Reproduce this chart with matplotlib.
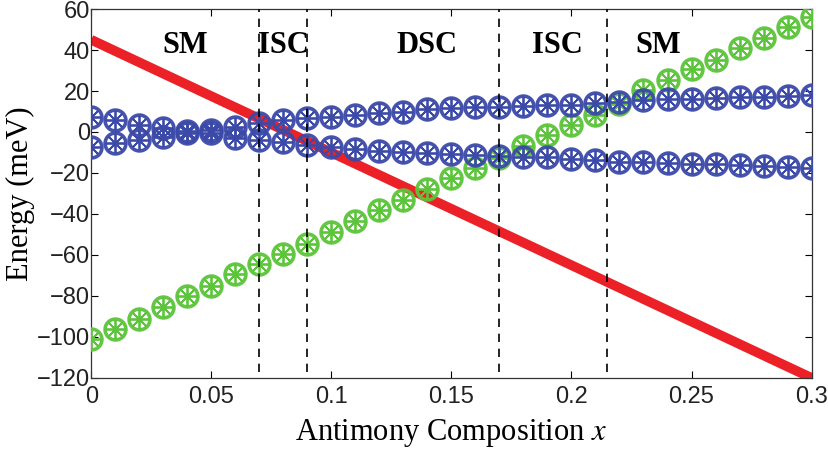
import numpy as np
import matplotlib
matplotlib.use('Agg')
import matplotlib.pyplot as plt

# Состав сурьмы x (шаг 0.01)
x = [round(0.01 * i, 2) for i in range(31)]

# Зелёная ветвь (meV)
green = [-101, -96, -91, -85.5, -80, -75, -69.5, -64.5, -59.5, -54.5,
         -49, -43.5, -38, -33, -28, -22.5, -17.5, -12.5, -7, -1.5,
         3.5, 8.5, 13.5, 20.5, 25.5, 30.5, 35, 41, 46, 51, 56]

# Синие ветви (верхняя и нижняя)
blue_up = [7.3, 5.8, 3.4, 2.0, 0.5, 0.8, 2.4, 4.4, 5.9, 6.7,
           7.5, 8.3, 9.1, 9.9, 11.0, 11.7, 12.0, 12.2, 12.7, 13.0,
           13.4, 14.1, 14.6, 15.4, 16.0, 16.2, 16.6, 17.0, 17.2, 17.4, 18.0]
blue_dn = [-7.3, -5.4, -3.9, -2.4, -0.5, -0.5, -2.9, -4.0, -4.9, -6.3,
           -7.2, -8.5, -9.4, -9.8, -10.3, -10.7, -11.2, -11.7, -12.0, -12.4,
           -13.3, -13.7, -14.5, -14.8, -15.3, -15.4, -15.6, -16.1, -16.4, -16.9, -17.7]

# Красная прямая
red_x = [0, 0.3]
red_y = [45, -120]

# Границы областей и подписи
boundaries = [0.07, 0.09, 0.17, 0.215]
regions = ['SM', 'ISC', 'DSC', 'ISC', 'SM']
region_x = [0.039, 0.08, 0.14, 0.194, 0.236]
region_y = 42

plt.rcParams['mathtext.fontset'] = 'stix'

fig = plt.figure(figsize=(8.29, 4.51), dpi=100)
ax = fig.add_axes([0.110, 0.162, 0.869, 0.818])

blue = '#3b4aa8'
grn = '#5cc43a'

ax.plot(red_x, red_y, color='#ec2027', linewidth=7, solid_capstyle='butt', zorder=2)

def wheel(yv, color, z):
    # кружок со спицами
    ax.plot(x, yv, linestyle='none', marker='o', ms=15, mfc='none', mec=color,
            mew=2.6, alpha=0.95, zorder=z)
    ax.plot(x, yv, linestyle='none', marker=(8, 2, 0), ms=14, mec=color,
            mew=1.3, zorder=z)

wheel(green, grn, 3)
wheel(blue_up, blue, 4)
wheel(blue_dn, blue, 4)

for b in boundaries:
    ax.plot([b, b], [-117, 60], color='black', linestyle=(0, (5, 4)),
            linewidth=1.2, zorder=6)

for lab, rx in zip(regions, region_x):
    ax.text(rx, region_y, lab, ha='center', va='center', fontsize=22,
            fontweight='bold', family='Liberation Serif', zorder=7)

ax.set_xlim(0, 0.3)
ax.set_ylim(-120, 60)
ax.set_xticks([0, 0.05, 0.1, 0.15, 0.2, 0.25, 0.3])
ax.set_xticklabels(['0', '0.05', '0.1', '0.15', '0.2', '0.25', '0.3'])
ax.set_yticks(np.arange(-120, 61, 20))
ax.set_yticklabels([str(v).replace('-', '\u2212') for v in range(-120, 61, 20)])
ax.tick_params(direction='in', top=True, right=True, length=5, width=0.8,
               labelsize=17)
ax.tick_params(axis='x', pad=6)
ax.tick_params(axis='y', pad=1)
for lbl in ax.get_xticklabels() + ax.get_yticklabels():
    lbl.set_family('Liberation Sans')
    lbl.set_color('#222222')

ax.set_xlabel('Antimony Composition $x$', family='Liberation Serif', fontsize=22, labelpad=6)
ax.set_ylabel('Energy (meV)', family='Liberation Serif', fontsize=22, labelpad=1)
for s in ax.spines.values():
    s.set_linewidth(0.9)
    s.set_color('#333333')

plt.savefig('out.png', dpi=100)
